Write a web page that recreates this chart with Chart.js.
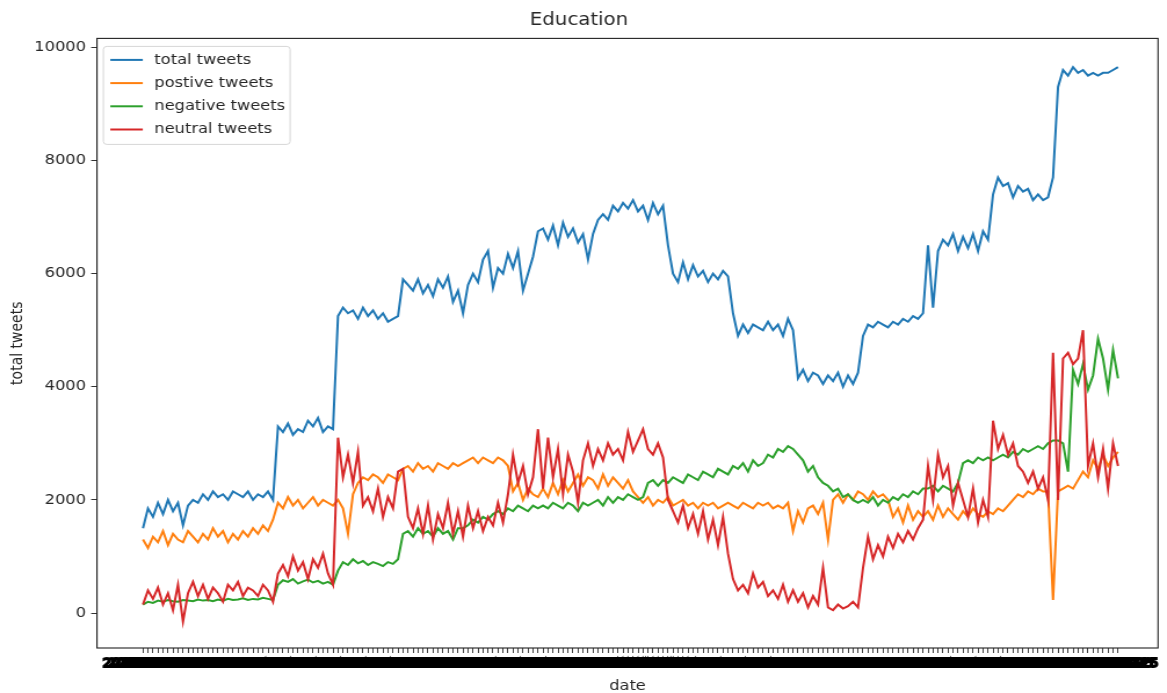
<!DOCTYPE html>
<html>
<head>
<meta charset="utf-8">
<title>Education</title>
<script src="https://cdn.jsdelivr.net/npm/chart.js@4.4.1/dist/chart.umd.min.js"></script>
<style>
  html, body { margin: 0; padding: 0; background: #fff; overflow: hidden; }
  #wrap { width: 1167px; height: 693px; overflow: hidden; }
  /* the figure is drawn a little narrower and stretched sideways, like the exported image */
  #c { display: block; transform: scaleX(1.16); transform-origin: 0 0; }
</style>
</head>
<body>
<div id="wrap"><canvas id="c" width="1006" height="693" style="width:1006px;height:693px"></canvas></div>
<script>
// Daily tweet counts about education, by sentiment
const total = [
  1500, 1850, 1700, 1950, 1750, 2000, 1800, 1950, 1550, 1900,
  2000, 1950, 2100, 2000, 2150, 2050, 2100, 2000, 2150, 2100,
  2050, 2150, 2000, 2100, 2050, 2150, 2000,
  3300, 3200, 3350, 3150, 3250, 3200, 3400, 3300, 3450, 3200, 3300, 3250,
  5250,
  5400, 5300, 5350, 5200, 5400, 5250, 5350, 5200, 5300, 5150, 5200, 5250,
  5900, 5800, 5700, 5900, 5650, 5800, 5600, 5900, 5750, 5950, 5500, 5700,
  5300, 5800, 6000, 5850, 6250, 6400, 5750, 6100, 6000, 6350, 6100, 6400, 5700, 6000, 6300, 6750,
  6800, 6600, 6850, 6500, 6900, 6650, 6800, 6550, 6700, 6250,
  6700, 6950, 7050, 6950, 7200, 7100, 7250, 7150, 7300, 7100,
  7200, 6950, 7250, 7050, 7200,
  6500, 6000, 5850, 6200, 5900, 6150, 5950, 6050, 5850, 6000, 5900, 6050, 5950,
  5300, 4900, 5100, 4950, 5100, 5050, 5000, 5150, 5000, 5100, 4900, 5200, 5000,
  4150, 4300, 4100, 4250, 4200, 4050, 4200, 4100, 4250, 4000, 4200, 4050, 4250,
  4900, 5100, 5050, 5150, 5100, 5050, 5150, 5100, 5200, 5150, 5250, 5200, 5300,
  6500, 5400, 6400, 6600, 6500, 6700, 6400, 6650, 6450, 6700, 6400, 6750, 6600,
  7400, 7700, 7550, 7600, 7350, 7550, 7450, 7500, 7300, 7400, 7300, 7350, 7700,
  9300, 9600, 9500, 9650, 9550, 9600, 9500, 9550, 9500, 9550, 9550, 9600, 9650
];

const positive = [
  1300, 1150, 1350, 1250, 1450, 1200, 1400, 1300, 1250, 1450,
  1350, 1250, 1400, 1300, 1500, 1350, 1450, 1250, 1400, 1300,
  1450, 1350, 1500, 1400, 1550, 1450, 1650,
  1950, 1850, 2050, 1900, 2000, 1850, 1950, 2050, 1900, 2000, 1950, 1900,
  2000, 1850, 1400, 2100, 2300, 2400, 2350, 2450, 2400, 2300, 2450, 2400, 2350,
  2550, 2600, 2500, 2650, 2550, 2600, 2500, 2650, 2600, 2550, 2650, 2600,
  2650, 2700, 2750, 2650, 2750, 2700, 2650, 2750, 2700, 2600,
  2150, 2300, 2000, 2200, 2100, 2050,
  2200, 2050, 2300, 2100, 2350, 2150, 2300, 2450, 2250, 2400,
  2350, 2200, 2450, 2250, 2400, 2300, 2200, 2350, 2150, 2050,
  1950, 2050, 1900, 2000, 1950, 2050, 1900, 1950, 2000, 1900, 1950, 1850, 1950, 1900, 1950, 1850, 1900, 1950,
  1900, 1850, 1950, 1900, 1850, 1950, 1900, 1950, 1850, 1900, 1850, 1950,
  1450,
  1800, 1600, 1850, 1900, 1750, 1950, 1300, 2000, 2100, 1950, 2100, 2000, 2150,
  2100, 2000, 2150, 2050, 2100, 2000, 1700, 1850, 1600, 1900, 1650, 1800, 1700,
  1800, 1650, 1900, 1700, 1850, 1750, 1650, 1800, 1700, 1850, 1750, 1700, 1800,
  1750, 1850, 1800, 1900, 2000, 2100, 2050, 2150, 2100, 2200, 2150, 2150, 230,
  2150, 2200, 2250, 2200, 2350, 2500, 2400, 2700, 2550, 2800, 2600, 2750, 2850
];

const negative = [
  150, 200, 180, 220, 200, 230, 210, 200, 230, 220,
  210, 240, 220, 230, 210, 240, 220, 250, 230, 240,
  260, 230, 250, 240, 270, 250, 230,
  500, 580, 550, 600, 520, 560, 590, 540, 570, 520, 550, 500,
  750, 900, 850, 950, 880, 920, 850, 900, 870, 830, 900, 870, 950,
  1400, 1450, 1350, 1500, 1400, 1450, 1350, 1500, 1400, 1450, 1300, 1500,
  1500, 1550, 1650, 1600, 1700, 1650, 1750, 1800, 1750, 1850, 1800, 1900, 1850, 1800, 1900, 1850,
  1900, 1850, 1950, 1900, 1850, 1950, 1900, 1800, 1950, 1900,
  1950, 2000, 1900, 2050, 1950, 2050, 2000, 2100, 2050, 2000,
  2050, 2300, 2350, 2250, 2350, 2300, 2400, 2350, 2300, 2450, 2400, 2350, 2500, 2450, 2400, 2550, 2500, 2450,
  2600, 2550, 2650, 2500, 2700, 2600, 2650, 2800, 2750, 2900, 2850, 2950, 2900,
  2800, 2700, 2500, 2600, 2400, 2300, 2250, 2150, 2200, 2050, 2100, 2000, 1950,
  2000, 1950, 2050, 1900, 2000, 1950, 2050, 2000, 2100, 2050, 2150, 2100, 2200,
  2200, 2250, 2150, 2250, 2200, 2150, 2300, 2650, 2700, 2650, 2750, 2700, 2750,
  2700, 2750, 2800, 2750, 2850, 2800, 2900, 2850, 2900, 2950, 2900, 3000, 3050,
  3050, 3000, 2500, 4300, 4050, 4400, 3950, 4200, 4850, 4500, 3950, 4650, 4150
];

const neutral = [
  150, 400, 250, 450, 150, 350, 50, 500, -150, 350,
  550, 300, 500, 250, 450, 350, 200, 500, 400, 550,
  300, 450, 400, 300, 500, 400, 200,
  700, 850, 650, 1000, 750, 900, 600, 950, 800, 1050, 700, 500,
  3100, 2400, 2800, 2300, 2850, 1900, 2050, 1800, 2200, 1700, 2050, 1850, 2500,
  2550, 1700, 1500, 1850, 1400, 1900, 1300, 1750, 1500, 1950, 1400, 1800,
  1350, 1900, 1500, 1800, 1450, 1700, 1550, 1950, 1600, 2100, 2800, 2300, 2600, 2100, 2400, 3250,
  2200, 3100, 2400, 2900, 2100, 2800, 2500, 1950, 2700, 3000,
  2600, 2900, 2700, 3000, 2800, 2900, 2700, 3200, 2850, 3050,
  3250, 2900, 2800, 3000, 2750,
  2000, 1800, 1600, 1900, 1500, 1750, 1400, 1800, 1300, 1650, 1200, 1700, 1050,
  600, 400, 500, 350, 700, 450, 550, 300, 400, 250, 500, 200, 400,
  200, 350, 100, 300, 150, 800, 100, 50, 150, 80, 120, 200, 100,
  800, 1350, 950, 1200, 1000, 1350, 1150, 1400, 1250, 1450, 1300, 1500, 1650,
  2600, 2000, 2800, 2400, 2600, 1900, 2300, 2000, 1700, 2200, 1600, 2000, 1700,
  3400, 2900, 3150, 2800, 3000, 2600, 2500, 2300, 2500, 2200, 2400, 2000, 4600,
  2000, 4500, 4600, 4400, 4500, 5000, 2600, 3000, 2400, 2900, 2200, 3000, 2600
];

// one date per sample, every second day
const startDay = Date.UTC(2019, 9, 1);
const dates = total.map((_, i) => new Date(startDay + i * 2 * 86400000).toISOString().slice(0, 10));

const yTicks = [0, 2000, 4000, 6000, 8000, 10000];
const seriesNames = ['total tweets', 'postive tweets', 'negative tweets', 'neutral tweets'];
const seriesColors = ['#1f77b4', '#ff7f0e', '#2ca02c', '#d62728'];
const seriesValues = [total, positive, negative, neutral];

const ink = '#262626';
Chart.defaults.font.family = '"DejaVu Sans", "Liberation Sans", sans-serif';
Chart.defaults.color = ink;

// axes box on all four sides
const frame = {
  id: 'frame',
  afterDatasetsDraw(chart) {
    const { ctx, chartArea: a } = chart;
    ctx.save();
    ctx.strokeStyle = '#222';
    ctx.lineWidth = 1.1;
    ctx.strokeRect(a.left, a.top, a.right - a.left, a.bottom - a.top);
    ctx.restore();
  }
};

// legend box in the upper-left corner of the plot
const cornerLegend = {
  id: 'cornerLegend',
  afterDraw(chart) {
    const { ctx, chartArea: a } = chart;
    const x = a.left + 5.5, y = a.top + 8, w = 161, h = 98, r = 3;
    ctx.save();
    ctx.beginPath();
    ctx.moveTo(x + r, y);
    ctx.arcTo(x + w, y, x + w, y + h, r);
    ctx.arcTo(x + w, y + h, x, y + h, r);
    ctx.arcTo(x, y + h, x, y, r);
    ctx.arcTo(x, y, x + w, y, r);
    ctx.closePath();
    ctx.fillStyle = 'rgba(255,255,255,0.8)';
    ctx.fill();
    ctx.strokeStyle = '#d6d6d6';
    ctx.lineWidth = 1;
    ctx.stroke();
    ctx.font = '14px "DejaVu Sans", sans-serif';
    ctx.textBaseline = 'middle';
    chart.data.datasets.forEach((ds, i) => {
      const cy = y + 13.5 + i * 23.2;
      ctx.strokeStyle = ds.borderColor;
      ctx.lineWidth = 2;
      ctx.beginPath();
      ctx.moveTo(x + 6, cy);
      ctx.lineTo(x + 34, cy);
      ctx.stroke();
      ctx.fillStyle = ink;
      ctx.fillText(ds.label, x + 44, cy);
    });
    ctx.restore();
  }
};

new Chart(document.getElementById('c'), {
  type: 'line',
  data: {
    datasets: seriesNames.map((name, k) => ({
      label: name,
      data: seriesValues[k].map((v, i) => ({ x: i, y: v })),
      borderColor: seriesColors[k],
      backgroundColor: seriesColors[k],
      borderWidth: 2,
      pointRadius: 0,
      tension: 0,
      fill: false,
      order: seriesNames.length - k
    }))
  },
  options: {
    responsive: false,
    devicePixelRatio: 1,
    animation: false,
    layout: { padding: { left: 0, right: 7.7, top: 0, bottom: 0 } },
    plugins: {
      legend: { display: false },
      tooltip: { enabled: false },
      title: {
        display: true,
        text: 'Education',
        color: ink,
        font: { size: 17, weight: 'normal' },
        padding: { top: 10, bottom: 8 }
      }
    },
    scales: {
      x: {
        type: 'linear',
        min: -9.2,
        max: 203,
        afterBuildTicks: s => { s.ticks = dates.map((_, i) => ({ value: i })); },
        afterFit: s => { s.height = 45; s.paddingLeft = 0; s.paddingRight = 0; },
        ticks: {
          autoSkip: false,
          maxRotation: 0,
          minRotation: 0,
          color: '#000',
          textStrokeColor: '#000',
          textStrokeWidth: 2,
          font: { size: 12 },
          padding: 4,
          callback: v => dates[v]
        },
        grid: { drawOnChartArea: false, drawTicks: true, tickLength: 5, tickColor: '#444' },
        border: { display: false },
        title: { display: true, text: 'date', color: ink, font: { size: 14, lineHeight: 1 }, padding: 0 }
      },
      y: {
        type: 'linear',
        min: -618,
        max: 10159,
        afterBuildTicks: s => { s.ticks = yTicks.map(v => ({ value: v })); },
        afterFit: s => { s.width = 83.6; s.paddingTop = 0; s.paddingBottom = 0; },
        ticks: { color: ink, font: { size: 14 }, padding: 4.5, callback: v => String(v) },
        grid: { drawOnChartArea: false, drawTicks: true, tickLength: 5, tickColor: '#333' },
        border: { display: false },
        title: { display: true, text: 'total tweets', color: ink, font: { size: 14 }, padding: { top: 7, bottom: 0 } }
      }
    }
  },
  plugins: [frame, cornerLegend]
});
</script>
</body>
</html>
